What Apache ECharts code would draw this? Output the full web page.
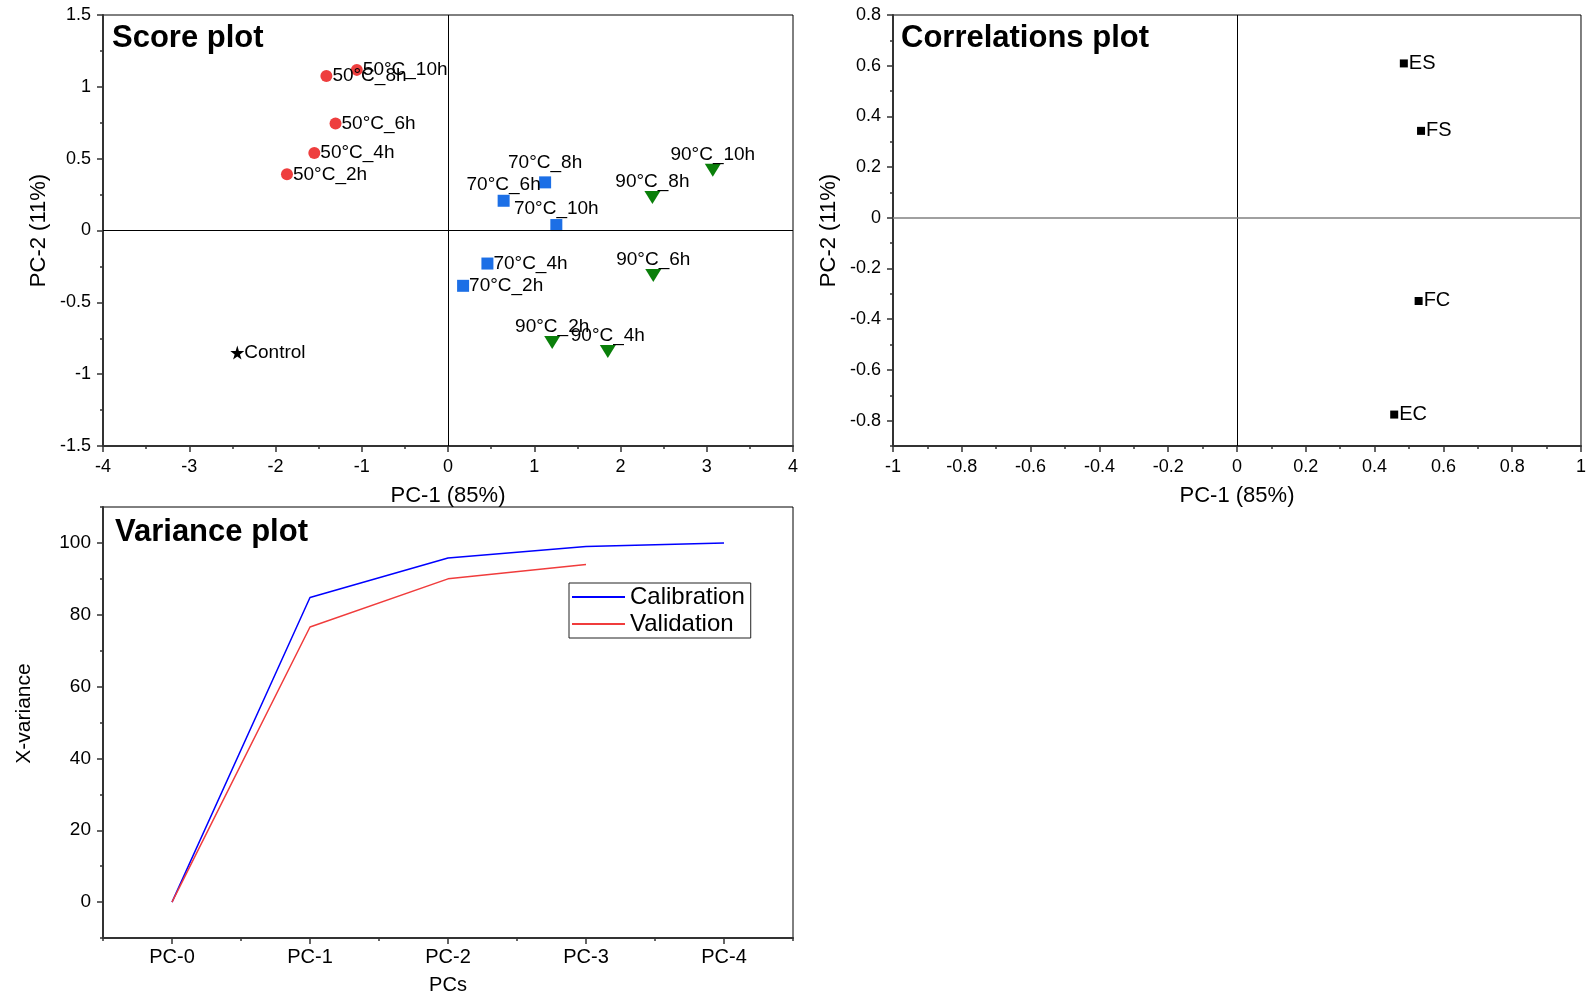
<!DOCTYPE html>
<html>
<head>
<meta charset="utf-8">
<script src="https://cdn.jsdelivr.net/npm/echarts@6/dist/echarts.min.js"></script>
<style>html,body{margin:0;padding:0;background:#fff}#c{width:1589px;height:997px}</style>
</head>
<body>
<div id="c"></div>
<script>
// ---- Score plot data ----
const s50Names = ['50°C_2h','50°C_4h','50°C_6h','50°C_8h','50°C_10h'];
const s50X = [-1.867,-1.55,-1.304,-1.41,-1.057];
const s50Y = [0.391,0.539,0.744,1.075,1.118];
const s70Names = ['70°C_2h','70°C_4h','70°C_6h','70°C_8h','70°C_10h'];
const s70X = [0.175,0.457,0.645,1.126,1.256];
const s70Y = [-0.385,-0.23,0.207,0.335,0.038];
const s90Names = ['90°C_2h','90°C_4h','90°C_6h','90°C_8h','90°C_10h'];
const s90X = [1.208,1.853,2.38,2.37,3.07];
const s90Y = [-0.78,-0.843,-0.314,0.229,0.419];
const ctrlNames = ['Control'];
const ctrlX = [-2.443];
const ctrlY = [-0.85];
const scoreXTicks = [-4,4,1];
const scoreYTicks = [-1.5,1.5,0.5];

// ---- Correlations plot data ----
const corrNames = ['ES','FS','FC','EC'];
const corrX = [0.485,0.535,0.528,0.457];
const corrY = [0.609,0.343,-0.328,-0.776];
const corrYLabels = [-0.8,-0.6,-0.4,-0.2,0,0.2,0.4,0.6,0.8];
const corrYMinor = [-0.9,-0.7,-0.5,-0.3,-0.1,0.1,0.3,0.5,0.7];

// ---- Variance plot data ----
const pcCategories = ['PC-0','PC-1','PC-2','PC-3','PC-4'];
const calibration = [0,84.8,95.8,99.0,100];
const validation = [0,76.6,90.0,94.0,null];
const varYLabels = [0,20,40,60,80,100];
const varYMinor = [-10,10,30,50,70,90,110];

const AXC = '#333';
const fontFam = 'Liberation Sans, Arial, sans-serif';

function pts(names, xs, ys, extra) {
  return names.map((n,i) => {
    const d = {name:n, value:[xs[i], ys[i]]};
    if (extra && extra[n]) d.label = extra[n];
    return d;
  });
}

function valueAxis(gi, o) {
  return Object.assign({
    gridIndex: gi, type:'value',
    axisLine:{show:true, onZero:false, lineStyle:{color:AXC, width:2}},
    axisTick:{show:true, inside:false, length:6, lineStyle:{color:AXC, width:1.5}},
    minorTick:{show:true, splitNumber:2, length:3, lineStyle:{color:AXC, width:1.5}},
    splitLine:{show:false},
    axisLabel:{color:'#000', fontSize:18, fontFamily:fontFam, margin:12},
    nameLocation:'middle',
    nameTextStyle:{color:'#000', fontSize:22, fontFamily:fontFam}
  }, o);
}

const zeroLine = (hColor, hWidth) => ({
  silent:true, symbol:['none','none'], label:{show:false},
  lineStyle:{color:'#000', width:1, type:'solid'},
  emphasis:{disabled:true},
  data:[{xAxis:0}, {yAxis:0, lineStyle:{color:hColor, width:hWidth, type:'solid'}}]
});

const lblStyle = {show:true, formatter:'{b}', color:'#000', fontSize:19, fontFamily:fontFam, opacity:1};
const titleStyle = {fontSize:31, fontWeight:'bold', color:'#000', fontFamily:fontFam};

const option = {
  animation:false,
  backgroundColor:'#fff',
  title:[
    {text:'Score plot', left:107, top:18, textStyle:titleStyle},
    {text:'Correlations plot', left:896, top:18, textStyle:titleStyle},
    {text:'Variance plot', left:110, top:512, textStyle:titleStyle}
  ],
  grid:[
    {left:103, top:15, width:690, height:431, show:true, borderColor:'#000', borderWidth:1},
    {left:893, top:15, width:690, height:431, show:true, borderColor:'#000', borderWidth:1},
    {left:103, top:507, width:690, height:431, show:true, borderColor:'#000', borderWidth:1}
  ],
  xAxis:[
    valueAxis(0, {min:scoreXTicks[0], max:scoreXTicks[1], interval:scoreXTicks[2], name:'PC-1 (85%)', nameGap:39,
      axisLabel:{color:'#000', fontSize:18, fontFamily:fontFam, margin:12}}),
    valueAxis(1, {min:-1, max:1, interval:0.2, name:'PC-1 (85%)', nameGap:39,
      axisLabel:{color:'#000', fontSize:18, fontFamily:fontFam, margin:12}}),
    {gridIndex:2, type:'category', data:pcCategories, boundaryGap:true, position:'bottom',
      axisLine:{show:true, onZero:false, lineStyle:{color:AXC, width:2}},
      axisTick:{show:true, alignWithLabel:true, length:6, lineStyle:{color:AXC, width:1.5}},
      axisLabel:{color:'#000', fontSize:20, fontFamily:fontFam, margin:9},
      splitLine:{show:false},
      name:'PCs', nameLocation:'middle', nameGap:37,
      nameTextStyle:{color:'#000', fontSize:20, fontFamily:fontFam}},
    {gridIndex:2, type:'category', data:pcCategories, boundaryGap:true, position:'bottom',
      axisLine:{show:false, onZero:false}, axisLabel:{show:false}, splitLine:{show:false},
      axisTick:{show:true, alignWithLabel:false, length:3, lineStyle:{color:AXC, width:1.5}}}
  ],
  yAxis:[
    valueAxis(0, {min:scoreYTicks[0], max:scoreYTicks[1], interval:scoreYTicks[2], name:'PC-2 (11%)', nameGap:53}),
    valueAxis(1, {min:-0.9, max:0.8, position:'left', name:'PC-2 (11%)', nameGap:53,
      axisTick:{show:true, length:6, customValues:corrYLabels, lineStyle:{color:AXC, width:1.5}},
      minorTick:{show:false},
      axisLabel:{color:'#000', fontSize:18, fontFamily:fontFam, margin:12, customValues:corrYLabels}}),
    valueAxis(1, {min:-0.9, max:0.8, position:'left',
      axisLine:{show:false, onZero:false}, minorTick:{show:false}, axisLabel:{show:false},
      axisTick:{show:true, length:3, customValues:corrYMinor, lineStyle:{color:AXC, width:1.5}}}),
    valueAxis(2, {min:-10, max:110, position:'left', name:'X-variance', nameGap:68,
      nameTextStyle:{color:'#000', fontSize:21, fontFamily:fontFam, padding:[0,0,0,18]},
      axisTick:{show:true, length:6, customValues:varYLabels, lineStyle:{color:AXC, width:1.5}},
      minorTick:{show:false},
      axisLabel:{color:'#000', fontSize:19, fontFamily:fontFam, margin:12, customValues:varYLabels}}),
    valueAxis(2, {min:-10, max:110, position:'left',
      axisLine:{show:false, onZero:false}, minorTick:{show:false}, axisLabel:{show:false},
      axisTick:{show:true, length:3, customValues:varYMinor, lineStyle:{color:AXC, width:1.5}}})
  ],
  legend:{
    data:['Calibration','Validation'], orient:'vertical', left:569, top:583,
    padding:[2,6,2,3], itemGap:3, itemWidth:53, itemHeight:2, icon:'rect',
    borderColor:'#222', borderWidth:1,
    textStyle:{color:'#000', fontSize:24, fontFamily:fontFam}
  },
  series:[
    {type:'scatter', name:'50', xAxisIndex:0, yAxisIndex:0, symbol:'circle', symbolSize:12,
      itemStyle:{color:'#ee3e3e', opacity:1},
      label:Object.assign({}, lblStyle, {position:'right', distance:0}),
      data:pts(s50Names, s50X, s50Y),
      markLine:zeroLine('#000', 1)},
    {type:'scatter', name:'70', xAxisIndex:0, yAxisIndex:0, symbol:'rect', symbolSize:12,
      itemStyle:{color:'#1c6fe6', opacity:1},
      label:Object.assign({}, lblStyle, {position:'top', distance:1}),
      data:pts(s70Names, s70X, s70Y, {
        '70°C_2h':{position:'right', distance:0},
        '70°C_4h':{position:'right', distance:0},
        '70°C_8h':{position:'top', distance:4},
        '70°C_6h':{position:'top', distance:0}
      })},
    {type:'scatter', name:'90', xAxisIndex:0, yAxisIndex:0, symbol:'triangle', symbolRotate:180, symbolSize:[16,13],
      itemStyle:{color:'#0a7f0a', opacity:1},
      label:Object.assign({}, lblStyle, {position:'top', distance:0}),
      data:pts(s90Names, s90X, s90Y)},
    {type:'scatter', name:'Control', xAxisIndex:0, yAxisIndex:0,
      symbol:'path://M50,0 L61,35 98,35 68,57 79,91 50,70 21,91 32,57 2,35 39,35 Z', symbolSize:14,
      itemStyle:{color:'#000', opacity:1},
      label:Object.assign({}, lblStyle, {position:'right', distance:0}),
      data:pts(ctrlNames, ctrlX, ctrlY)},
    {type:'scatter', name:'corr', xAxisIndex:1, yAxisIndex:1, symbol:'rect', symbolSize:8,
      itemStyle:{color:'#000', opacity:1},
      label:Object.assign({}, lblStyle, {position:'right', distance:1, fontSize:20}),
      data:pts(corrNames, corrX, corrY),
      markLine:zeroLine('#808080', 1.5)},
    {type:'line', name:'Calibration', xAxisIndex:2, yAxisIndex:3, symbol:'none', smooth:false,
      lineStyle:{color:'#0000ff', width:1.5}, itemStyle:{color:'#0000ff'},
      data:calibration},
    {type:'line', name:'Validation', xAxisIndex:2, yAxisIndex:3, symbol:'none', smooth:false,
      lineStyle:{color:'#f03c3c', width:1.5}, itemStyle:{color:'#f03c3c'},
      data:validation}
  ]
};
const chart = echarts.init(document.getElementById('c'), null, {renderer:'canvas'});
chart.setOption(option);
</script>
</body>
</html>
